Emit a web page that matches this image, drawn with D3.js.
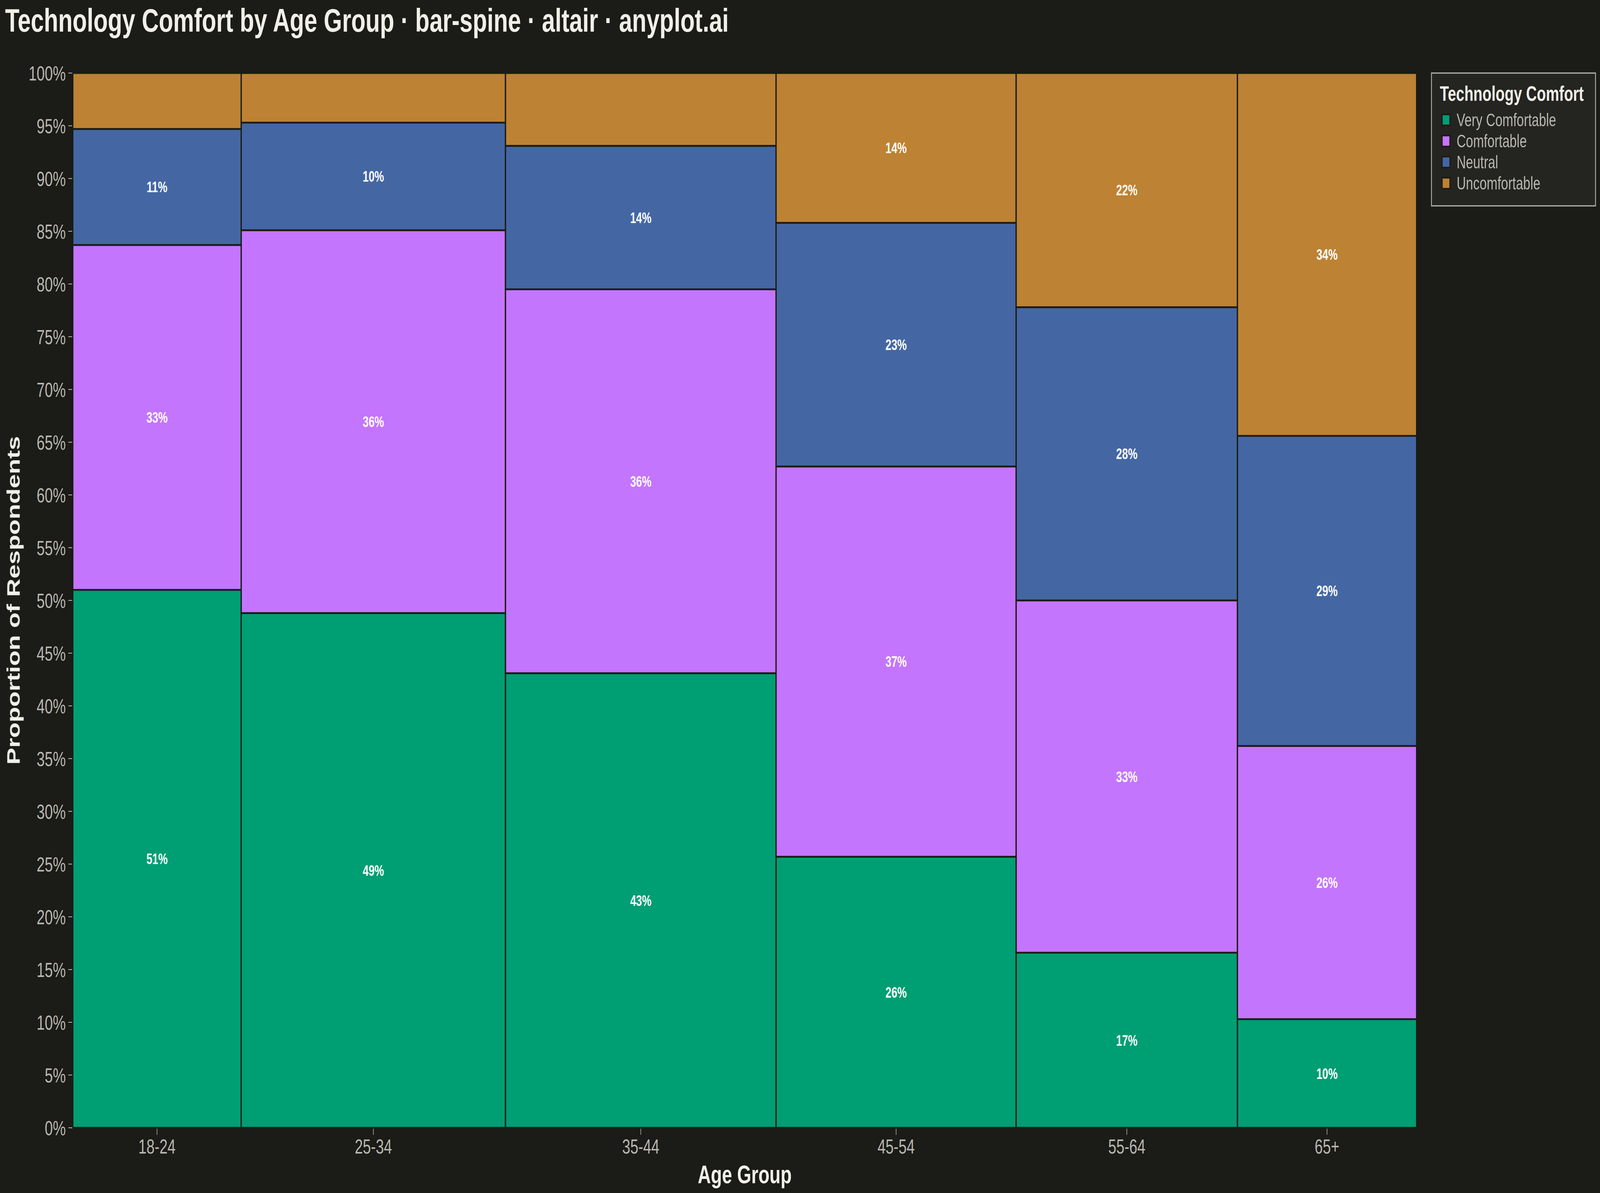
<!DOCTYPE html>
<html>
<head>
<meta charset="utf-8">
<script src="https://cdn.jsdelivr.net/npm/d3@7"></script>
<style>
  html, body { margin: 0; padding: 0; background: #1b1b17; overflow: hidden; width: 100%; height: 100%; }
  svg { display: block; position: fixed; left: 0; top: 0; width: 100vw; height: 100vh; }
  text { font-family: "Liberation Sans", Arial, sans-serif; }
</style>
</head>
<body>
<script>
// ---- data ----
const ageGroups = ["18-24", "25-34", "35-44", "45-54", "55-64", "65+"];
const respondents = [188, 295, 302, 268, 247, 200];
const comfortLevels = ["Very Comfortable", "Comfortable", "Neutral", "Uncomfortable"];
const veryComfortable = [51.0, 48.8, 43.1, 25.7, 16.6, 10.3];
const comfortable     = [32.7, 36.3, 36.4, 37.0, 33.4, 25.9];
const neutral         = [11.0, 10.2, 13.6, 23.1, 27.8, 29.4];
const uncomfortable   = [ 5.3,  4.7,  6.9, 14.2, 22.2, 34.4];
const yTicks = d3.range(0, 101, 5);
const palette = ["#009e73", "#c475fd", "#4467a3", "#bd8233"];

const W = 5715, H = 3054;
const M = { left: 260, right: 5060, top: 187, bottom: 2887 };
const BG = "#1b1b17", INK = "#f0efe8", SOFT = "#b8b7b0";

const series = [veryComfortable, comfortable, neutral, uncomfortable];
const total = d3.sum(respondents);
const cumStart = respondents.map((d, i) => d3.sum(respondents.slice(0, i)));

const x = d3.scaleLinear().domain([0, total]).range([M.left, M.right]);
const y = d3.scaleLinear().domain([0, 100]).range([M.bottom, M.top]);
const color = d3.scaleOrdinal().domain(comfortLevels).range(palette);

const cells = [];
ageGroups.forEach((g, i) => {
  let acc = 0;
  comfortLevels.forEach((c, k) => {
    const v = series[k][i];
    cells.push({ group: g, level: c, x0: cumStart[i], x1: cumStart[i] + respondents[i], y0: acc, y1: acc + v, v });
    acc += v;
  });
});

const svg = d3.select("body").append("svg")
  .attr("viewBox", `0 0 ${W} ${H}`)
  .attr("preserveAspectRatio", "none");
svg.append("rect").attr("width", W).attr("height", H).attr("fill", BG);

// title
svg.append("text").attr("x", 18).attr("y", 81)
  .attr("font-size", 84).attr("font-weight", "bold").attr("fill", INK)
  .text("Technology Comfort by Age Group · bar-spine · altair · anyplot.ai");

// y axis
const yAxis = svg.append("g");
yAxis.selectAll("line").data(yTicks).join("line")
  .attr("x1", M.left - 16).attr("x2", M.left)
  .attr("y1", d => y(d)).attr("y2", d => y(d))
  .attr("stroke", SOFT).attr("stroke-width", 2);
yAxis.selectAll("text").data(yTicks).join("text")
  .attr("x", M.left - 25).attr("y", d => y(d))
  .attr("dy", "0.36em").attr("text-anchor", "end")
  .attr("font-size", 52).attr("fill", SOFT)
  .text(d => d + "%");

// x axis
const xAxis = svg.append("g");
xAxis.append("line").attr("x1", M.left - 4).attr("x2", M.right)
  .attr("y1", M.bottom + 1).attr("y2", M.bottom + 1)
  .attr("stroke", SOFT).attr("stroke-width", 2);
const centers = ageGroups.map((g, i) => x(cumStart[i] + respondents[i] / 2));
xAxis.selectAll("line.tick").data(ageGroups).join("line").attr("class", "tick")
  .attr("x1", (d, i) => centers[i]).attr("x2", (d, i) => centers[i])
  .attr("y1", M.bottom + 1).attr("y2", M.bottom + 18)
  .attr("stroke", SOFT).attr("stroke-width", 2);
xAxis.selectAll("text").data(ageGroups).join("text")
  .attr("x", (d, i) => centers[i]).attr("y", 2953)
  .attr("text-anchor", "middle").attr("font-size", 52).attr("fill", SOFT)
  .text(d => d);

// bars
svg.append("g").selectAll("rect").data(cells).join("rect")
  .attr("x", d => x(d.x0)).attr("width", d => x(d.x1) - x(d.x0))
  .attr("y", d => y(d.y1)).attr("height", d => y(d.y0) - y(d.y1))
  .attr("fill", d => color(d.level))
  .attr("stroke", BG).attr("stroke-width", 4.5);

// labels
svg.append("g").selectAll("text").data(cells.filter(d => d.v >= 8)).join("text")
  .attr("x", d => x((d.x0 + d.x1) / 2))
  .attr("y", d => y((d.y0 + d.y1) / 2))
  .attr("dy", "0.36em").attr("text-anchor", "middle")
  .attr("font-size", 38).attr("font-weight", "bold").attr("fill", "#ffffff")
  .text(d => Math.round(d.v) + "%");

// axis titles
svg.append("text").attr("x", (M.left + M.right) / 2).attr("y", 3029)
  .attr("text-anchor", "middle").attr("font-size", 65).attr("font-weight", "bold").attr("fill", INK)
  .text("Age Group");
svg.append("text")
  .attr("transform", `translate(71, ${(M.top + M.bottom) / 2}) rotate(-90)`)
  .attr("text-anchor", "middle").attr("font-size", 65).attr("font-weight", "bold").attr("fill", INK)
  .text("Proportion of Respondents");

// legend
const lg = svg.append("g");
lg.append("rect").attr("x", 5113).attr("y", 187).attr("width", 586).attr("height", 340)
  .attr("fill", "#242420").attr("stroke", SOFT).attr("stroke-width", 3);
lg.append("text").attr("x", 5143).attr("y", 258)
  .attr("font-size", 53).attr("font-weight", "bold").attr("fill", INK)
  .text("Technology Comfort");
const rows = lg.selectAll("g.row").data(comfortLevels).join("g").attr("class", "row")
  .attr("transform", (d, i) => `translate(0, ${323 + i * 54})`);
rows.append("rect").attr("x", 5151).attr("y", -30).attr("width", 28).attr("height", 28)
  .attr("fill", d => color(d)).attr("stroke", BG).attr("stroke-width", 4);
rows.append("text").attr("x", 5203).attr("y", 0)
  .attr("font-size", 46).attr("fill", SOFT)
  .text(d => d);
</script>
</body>
</html>
